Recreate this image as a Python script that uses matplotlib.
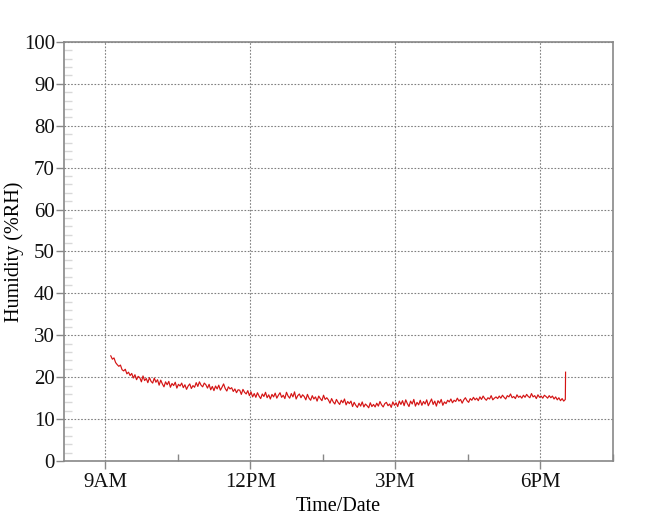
import numpy as np
import matplotlib
matplotlib.use("Agg")
import matplotlib.pyplot as plt
from matplotlib.ticker import FixedLocator, MultipleLocator

# Sampling: first reading at 9:07, one reading every 2 minutes
start_hour = 9 + 7 / 60
step_hours = 2 / 60

humidity = [
    25.1, 24.3, 24.6, 23.5, 23.0, 22.6, 22.9, 21.8, 21.5, 21.9, 20.8, 21.2, 20.4, 20.9, 19.8,
    20.6, 19.4, 20.2, 19.9, 18.9, 20.3, 19.2, 19.7, 18.7, 19.9, 19.0, 18.6, 19.8, 18.8, 19.4,
    18.1, 19.3, 18.4, 17.7, 18.9, 18.2, 19.0, 17.6, 18.5, 18.0, 18.8, 17.4, 18.3, 17.9, 18.6,
    17.5, 18.2, 17.1, 17.9, 18.4, 17.3, 18.0, 17.6, 18.7, 17.8, 18.9, 18.1, 17.7, 18.6, 18.2,
    17.4, 18.3, 17.0, 17.8, 16.8, 17.9, 17.2, 18.1, 16.9, 17.6, 18.4, 17.3, 16.7, 17.7, 17.2,
    17.5, 16.6, 17.2, 16.3, 17.0, 16.9, 15.9, 17.1, 16.4, 16.0, 16.8, 15.6, 16.5, 15.3, 16.1,
    15.2, 16.3, 15.5, 14.9, 16.0, 15.4, 16.4, 15.1, 15.8, 14.8, 15.9, 15.3, 16.2, 15.0, 15.7,
    16.3, 15.2, 15.7, 14.9, 16.4, 15.5, 15.0, 16.1, 15.3, 16.5, 14.8, 15.6, 16.0, 15.1, 15.8,
    15.4, 14.6, 15.9, 15.0, 14.5, 15.6, 14.8, 15.3, 14.3, 15.5, 14.9, 14.4, 15.7, 14.7, 15.1,
    14.6, 13.8, 14.9, 14.1, 13.6, 14.7, 14.0, 13.5, 14.5, 13.9, 14.8, 13.4, 14.2, 13.7, 14.3,
    13.0, 14.0, 13.3, 12.8, 13.8, 13.1, 14.1, 12.9, 13.6, 13.2, 12.7, 13.9, 13.0, 13.5, 12.9,
    13.8, 13.1, 14.2, 13.4, 12.9, 13.7, 14.0, 13.2, 13.6, 12.8, 14.1, 13.3, 13.9, 13.0, 14.3,
    13.5, 14.4, 13.2, 14.6, 13.7, 13.0, 14.3, 13.6, 14.7, 13.1, 14.0, 13.4, 14.5, 13.3, 14.2,
    13.6, 14.6, 13.2, 14.0, 14.8, 13.5, 14.3, 13.1, 14.4, 13.8, 14.7, 13.3, 14.1, 13.7, 14.5,
    14.1, 14.8, 13.9, 14.5, 14.2, 15.0, 14.3, 14.7, 13.8, 14.6, 15.1, 14.4, 14.0, 14.9, 14.5,
    15.2, 14.6, 15.0, 14.4, 15.3, 14.7, 15.5, 14.9, 14.5, 15.1, 14.8, 15.6, 14.6, 15.0, 15.3,
    14.9, 15.5, 15.0, 15.7, 15.2, 14.8, 15.6, 15.3, 16.0, 15.1, 15.4, 14.9, 15.8, 15.2, 15.5,
    15.0, 15.7, 15.2, 15.9, 15.4, 15.1, 16.1, 15.3, 15.6, 14.9, 15.8, 15.2, 15.5, 15.0, 15.7,
    15.4, 15.0, 15.6, 15.1, 15.5, 14.8, 15.3, 14.6, 15.1, 14.4, 14.9, 14.3, 14.7, 21.2,
]

hours = start_hour + step_hours * np.arange(len(humidity))
hours[-1] = hours[-2] + 0.005  # final spike reading

x_tick_hours = [9, 12, 15, 18]
x_tick_labels = ["9AM", "12PM", "3PM", "6PM"]
x_minor_hours = [10.5, 13.5, 16.5, 19.5]
y_ticks = list(range(0, 101, 10))

plt.rcParams['font.family'] = ['Liberation Serif', 'DejaVu Serif']

fig = plt.figure(figsize=(6.48, 5.18), dpi=100)
ax = fig.add_axes([0.0988, 0.110, 0.847, 0.809])

ax.plot(hours, humidity, color='#d41414', linewidth=0.85)

ax.set_xlim(8.15, 19.5)
ax.set_ylim(0, 100)

ax.xaxis.set_major_locator(FixedLocator(x_tick_hours))
ax.set_xticklabels(x_tick_labels)
ax.xaxis.set_minor_locator(FixedLocator(x_minor_hours))
ax.yaxis.set_major_locator(FixedLocator(y_ticks))
ax.yaxis.set_minor_locator(MultipleLocator(2))

ax.tick_params(axis='both', which='major', direction='out', length=5.5,
               width=1, color='#888888', labelsize=15, labelcolor='#111111')
ax.tick_params(axis='y', which='major', pad=1)
ax.tick_params(axis='x', which='major', pad=3)
ax.tick_params(axis='y', which='minor', direction='in', length=5.8,
               width=1, color='#d8d8d8')
ax.tick_params(axis='x', which='minor', direction='in', length=5,
               width=1, color='#888888')

ax.grid(True, which='major', linestyle=(0, (1.5, 1.5)), color='#808080', linewidth=0.8)

for s in ax.spines.values():
    s.set_color('#888888')
    s.set_linewidth(1.2)

ax.set_xlabel('Time/Date', fontsize=14.5)
ax.set_ylabel('Humidity (%RH)', fontsize=14.5)
ax.yaxis.set_label_coords(-0.073, 0.5)
ax.xaxis.set_label_coords(0.5, -0.085)

fig.savefig('out.png', dpi=100)
